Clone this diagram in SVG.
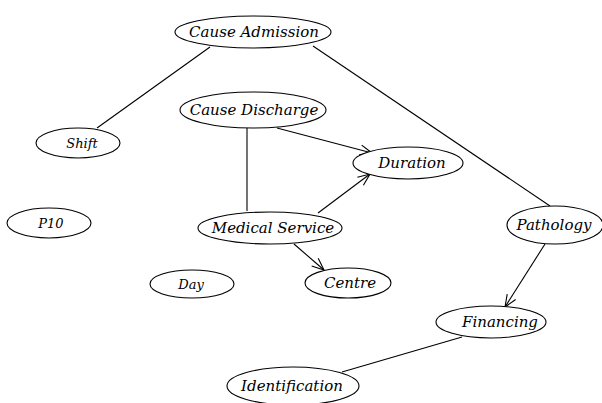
<svg xmlns="http://www.w3.org/2000/svg" width="602" height="403" viewBox="0 0 602 403">
<style>
ellipse{fill:#fff;stroke:#000;stroke-width:1.1}
text{font-family:'DejaVu Serif','Liberation Serif',serif;font-style:italic;font-size:15px;text-anchor:middle;fill:#000}
text.s{font-size:13px}
.e line{stroke:#000;stroke-width:1.1}
</style>
<defs>
<marker id="a" markerWidth="14" markerHeight="12" refX="13" refY="6" orient="auto" markerUnits="userSpaceOnUse">
<path d="M1,1 L13,6 L1,11" fill="none" stroke="#000" stroke-width="1.1"/>
</marker>
</defs>
<g class="e" id="connectors">
<line x1="210" y1="47" x2="97" y2="128"/>
<line x1="313" y1="46" x2="550" y2="206"/>
<line x1="247" y1="128" x2="247" y2="211"/>
<line x1="277" y1="128" x2="372" y2="153" marker-end="url(#a)"/>
<line x1="318" y1="213" x2="370" y2="174" marker-end="url(#a)"/>
<line x1="294" y1="244" x2="324" y2="270" marker-end="url(#a)"/>
<line x1="545" y1="244" x2="505" y2="307" marker-end="url(#a)"/>
<line x1="462" y1="337" x2="342" y2="372"/>
</g>
<g id="cause-admission"><ellipse cx="253" cy="32" rx="78" ry="16"/><text x="254" y="37">Cause Admission</text></g>
<g id="shift"><ellipse cx="78" cy="143" rx="42" ry="15"/><text class="s" x="82" y="148">Shift</text></g>
<g id="p10"><ellipse cx="49" cy="223" rx="42" ry="15"/><text class="s" x="51" y="228">P10</text></g>
<g id="day"><ellipse cx="192" cy="284" rx="42" ry="14"/><text class="s" x="191" y="289">Day</text></g>
<g id="cause-discharge"><ellipse cx="253" cy="110" rx="73" ry="18"/><text x="254" y="115">Cause Discharge</text></g>
<g id="duration"><ellipse cx="408" cy="163" rx="55" ry="16"/><text x="412" y="168">Duration</text></g>
<g id="medical-service"><ellipse cx="270" cy="228" rx="72" ry="16"/><text x="273" y="233">Medical Service</text></g>
<g id="centre"><ellipse cx="348" cy="283" rx="43" ry="15"/><text x="350" y="288">Centre</text></g>
<g id="pathology"><ellipse cx="555" cy="225" rx="48" ry="19"/><text x="554" y="230">Pathology</text></g>
<g id="financing"><ellipse cx="491" cy="322" rx="55" ry="16"/><text x="500" y="327">Financing</text></g>
<g id="identification"><ellipse cx="293" cy="386" rx="66" ry="19"/><text x="292" y="391">Identification</text></g>
</svg>
